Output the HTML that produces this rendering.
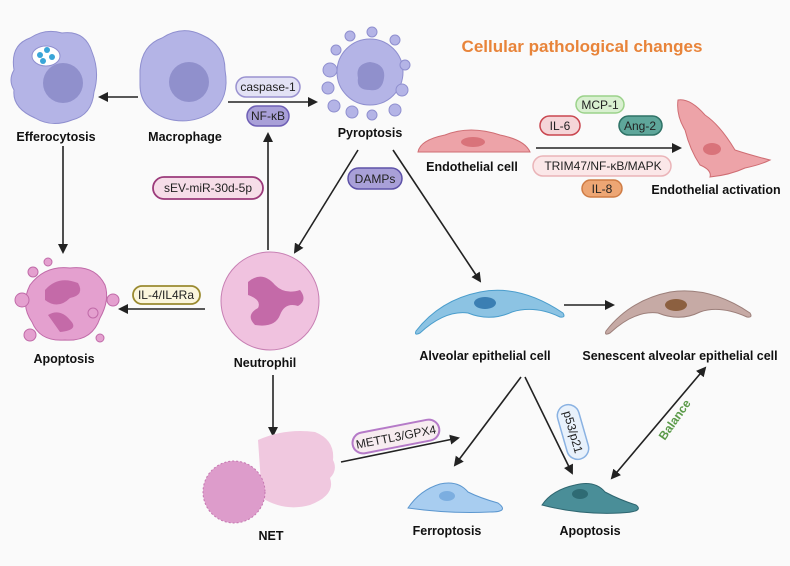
<!DOCTYPE html>
<html><head><meta charset="utf-8"><style>
body{margin:0;background:#fafafa;}
svg{display:block;font-family:"Liberation Sans",Arial,sans-serif;}
.l{font-weight:bold;font-size:12.5px;fill:#111;text-anchor:middle;}
.p{font-size:12px;fill:#222;text-anchor:middle;}
.a{stroke:#222;stroke-width:1.6;fill:none;marker-end:url(#ah);}
</style></head><body>
<svg width="790" height="566" viewBox="0 0 790 566">
<defs><marker id="ah" markerWidth="10" markerHeight="10" refX="8" refY="5" orient="auto" markerUnits="userSpaceOnUse"><path d="M0,0 L10,5 L0,10 z" fill="#222"/></marker>
<marker id="as" markerWidth="10" markerHeight="10" refX="2" refY="5" orient="auto" markerUnits="userSpaceOnUse"><path d="M10,0 L0,5 L10,10 z" fill="#222"/></marker></defs>
<rect width="790" height="566" fill="#fafafa"/>
<text x="582" y="52" font-size="17" font-weight="bold" fill="#e8843a" text-anchor="middle">Cellular pathological changes</text>

<path d="M14,70 Q10,45 30,38 Q45,28 62,33 Q85,30 92,52 Q100,72 94,92 Q92,115 72,120 Q52,128 35,118 Q12,108 14,90 Q8,80 14,70z" fill="#b4b4e6" stroke="#8f8fcf"/>
<circle cx="63" cy="83" r="20" fill="#9090cc"/>
<ellipse cx="46" cy="56" rx="14" ry="10" fill="#fff" stroke="#8f8fcf"/>
<circle cx="40" cy="55" r="3" fill="#3aa5d8"/><circle cx="47" cy="50" r="3" fill="#3aa5d8"/><circle cx="52" cy="57" r="3" fill="#3aa5d8"/><circle cx="43" cy="61" r="3" fill="#3aa5d8"/>
<text class="l" x="56" y="141">Efferocytosis</text>
<path d="M140,70 Q142,45 162,38 Q182,25 202,35 Q225,45 225,70 Q230,98 212,112 Q190,126 165,118 Q140,108 140,85z" fill="#b4b4e6" stroke="#8f8fcf"/>
<circle cx="189" cy="82" r="20" fill="#9090cc"/>
<text class="l" x="185" y="141">Macrophage</text>
<line class="a" x1="138" y1="97" x2="100" y2="97"/>
<line class="a" x1="228" y1="102" x2="316" y2="102"/>
<rect x="236" y="77" width="64" height="20" rx="10" fill="#e3e2f5" stroke="#9a92d0" stroke-width="1.5"/><text class="p" x="268" y="91">caspase-1</text>
<rect x="247" y="106" width="42" height="20" rx="10" fill="#a9a0d8" stroke="#6e5fb5" stroke-width="1.5"/><text class="p" x="268" y="120">NF-κB</text>
<circle cx="370" cy="72" r="33" fill="#b4b4e6" stroke="#8f8fcf"/>
<path d="M358,78 Q355,64 370,62 Q386,64 384,78 Q382,92 370,90 Q356,90 358,78z" fill="#9090cc"/>
<g fill="#b4b4e6" stroke="#8f8fcf"><circle cx="330" cy="70" r="7"/><circle cx="328" cy="88" r="6"/><circle cx="334" cy="106" r="6"/><circle cx="352" cy="112" r="6"/><circle cx="372" cy="115" r="5"/><circle cx="395" cy="110" r="6"/><circle cx="402" cy="90" r="6"/><circle cx="405" cy="65" r="5"/><circle cx="395" cy="40" r="5"/><circle cx="372" cy="32" r="5"/><circle cx="350" cy="36" r="5"/><circle cx="336" cy="50" r="5"/></g>
<text class="l" x="370" y="137">Pyroptosis</text>
<path d="M418,152 Q420,140 445,135 Q470,125 500,135 Q525,140 530,152z" fill="#eda3a8" stroke="#cf6d73"/>
<ellipse cx="473" cy="142" rx="12" ry="5" fill="#d9737a"/>
<text class="l" x="472" y="171">Endothelial cell</text>
<line class="a" x1="536" y1="148" x2="680" y2="148"/>
<rect x="576" y="96" width="48" height="17" rx="8.5" fill="#d9f0d0" stroke="#9bd28a" stroke-width="1.5"/><text class="p" x="600" y="109">MCP-1</text>
<rect x="540" y="116" width="40" height="19" rx="9.5" fill="#f5d5d8" stroke="#c9464f" stroke-width="1.5"/><text class="p" x="560" y="130">IL-6</text>
<rect x="619" y="116" width="43" height="19" rx="9.5" fill="#5ea69a" stroke="#2e7266" stroke-width="1.5"/><text class="p" x="640" y="130">Ang-2</text>
<rect x="533" y="156" width="138" height="20" rx="10" fill="#fbe7e8" stroke="#eab4b8" stroke-width="1.5"/><text class="p" x="603" y="170">TRIM47/NF-κB/MAPK</text>
<rect x="582" y="180" width="40" height="17" rx="8.5" fill="#eda674" stroke="#cf7c45" stroke-width="1.5"/><text class="p" x="602" y="193">IL-8</text>
<path d="M678,100 Q690,98 705,115 Q720,125 735,150 Q750,155 770,160 Q760,165 745,168 Q730,175 710,177 Q712,170 700,165 Q690,150 685,130 Q676,115 678,100z" fill="#eda3a8" stroke="#cf6d73"/>
<ellipse cx="712" cy="149" rx="9" ry="6" fill="#d9737a"/>
<text class="l" x="716" y="194">Endothelial activation</text>
<line class="a" x1="358" y1="150" x2="295" y2="252"/>
<line class="a" x1="393" y1="150" x2="480" y2="281"/>
<rect x="348" y="168" width="54" height="21" rx="10.5" fill="#a9a0d8" stroke="#5e52a8" stroke-width="1.5"/><text class="p" x="375" y="183">DAMPs</text>
<line class="a" x1="268" y1="250" x2="268" y2="134"/>
<rect x="153" y="177" width="110" height="22" rx="11" fill="#f6dde8" stroke="#9b3a7a" stroke-width="1.8"/><text class="p" x="208" y="192">sEV-miR-30d-5p</text>
<line class="a" x1="63" y1="146" x2="63" y2="252"/>
<path d="M30,285 Q45,265 70,268 Q95,265 105,285 Q110,300 100,318 Q92,342 65,340 Q40,342 32,322 Q20,305 30,285z" fill="#e4a0cf" stroke="#c06aa8"/>
<path d="M45,290 Q58,275 78,283 Q85,295 70,298 Q58,310 45,300z" fill="#c46aa8"/>
<path d="M48,315 Q60,308 70,320 Q80,330 60,332z" fill="#c46aa8"/>
<g fill="#e4a0cf" stroke="#c06aa8"><circle cx="22" cy="300" r="7"/><circle cx="113" cy="300" r="6"/><circle cx="33" cy="272" r="5"/><circle cx="48" cy="262" r="4"/><circle cx="30" cy="335" r="6"/><circle cx="100" cy="338" r="4"/><circle cx="93" cy="313" r="5"/></g>
<text class="l" x="64" y="363">Apoptosis</text>
<line class="a" x1="205" y1="309" x2="120" y2="309"/>
<rect x="133" y="286" width="67" height="18" rx="9" fill="#fbf6dd" stroke="#9a8a30" stroke-width="1.8"/><text class="p" x="166" y="299">IL-4/IL4Ra</text>
<circle cx="270" cy="301" r="49" fill="#f0c2df" stroke="#c77fb3"/>
<path d="M248,282 Q262,270 275,285 Q285,295 300,290 Q308,300 298,306 Q285,302 280,315 Q275,328 255,325 Q245,315 258,308 Q262,300 248,295z" fill="#c46aa8"/>
<text class="l" x="265" y="367">Neutrophil</text>
<line class="a" x1="273" y1="375" x2="273" y2="435"/>
<path d="M258,440 Q285,428 315,432 Q335,440 333,460 Q338,470 330,478 Q336,495 310,505 Q285,512 262,498z" fill="#f0c8df"/>
<circle cx="234" cy="492" r="31" fill="#dd9ccb" stroke="#c576b0" stroke-dasharray="2,2"/>
<text class="l" x="271" y="540">NET</text>
<line class="a" x1="341" y1="462" x2="458" y2="438"/>
<g transform="rotate(-11 396 437)"><rect x="352" y="426" width="88" height="21" rx="10.5" fill="#f7ecf0" stroke="#b57ac8" stroke-width="2"/><text class="p" x="396" y="441">METTL3/GPX4</text></g>
<path d="M416,331 Q440,300 480,292 Q520,284 563,313 Q566,318 560,317 Q535,305 512,312 Q490,322 468,313 Q445,310 420,333 Q414,336 416,331z" fill="#8cc3e3" stroke="#4a9dcc"/>
<ellipse cx="485" cy="303" rx="11" ry="6" fill="#3b7fb3"/>
<text class="l" x="485" y="360">Alveolar epithelial cell</text>
<line class="a" x1="564" y1="305" x2="613" y2="305"/>
<path d="M606,331 Q630,300 670,292 Q710,286 750,313 Q753,318 747,317 Q720,305 700,312 Q680,322 658,313 Q635,310 610,333 Q604,336 606,331z" fill="#c6aaa5" stroke="#9c7f7a"/>
<ellipse cx="676" cy="305" rx="11" ry="6" fill="#8c6040"/>
<text class="l" x="680" y="360">Senescent alveolar epithelial cell</text>
<line class="a" x1="521" y1="377" x2="455" y2="465"/>
<line class="a" x1="525" y1="377" x2="572" y2="473"/>
<g transform="rotate(74 573 432)"><rect x="545" y="421" width="56" height="22" rx="11" fill="#e8f1fb" stroke="#8ab2e2" stroke-width="1.5"/><text class="p" x="573" y="436">p53/p21</text></g>
<line stroke="#222" stroke-width="1.6" x1="705" y1="368" x2="612" y2="478" marker-end="url(#ah)" marker-start="url(#as)"/>
<text x="0" y="0" font-size="12" font-weight="bold" fill="#5a9a48" text-anchor="middle" transform="translate(678,422) rotate(-55)">Balance</text>
<path d="M408,508 Q420,490 440,484 Q458,480 468,492 Q480,498 498,503 Q510,512 490,512 Q450,514 408,508z" fill="#a8cdf0" stroke="#5c97cf"/>
<ellipse cx="447" cy="496" rx="8" ry="5" fill="#7caee0"/>
<text class="l" x="447" y="535">Ferroptosis</text>
<path d="M542,505 Q552,490 575,485 Q595,480 605,492 Q620,500 636,505 Q645,512 620,513 Q580,515 542,505z" fill="#4a8e98" stroke="#2e6670"/>
<ellipse cx="580" cy="494" rx="8" ry="5" fill="#2e6b74"/>
<text class="l" x="590" y="535">Apoptosis</text>
</svg>
</body></html>
